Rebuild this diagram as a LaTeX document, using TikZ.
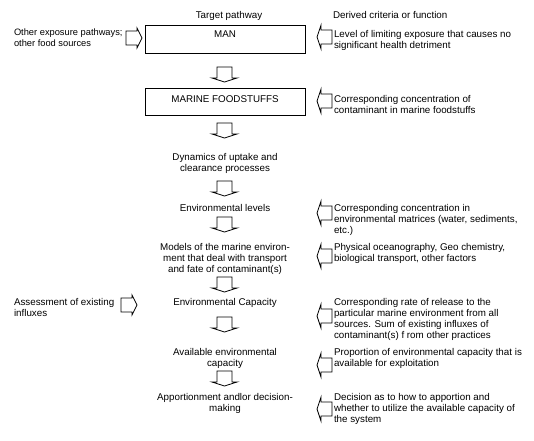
\documentclass[tikz,border=0pt]{standalone}
\usepackage{fontspec}
\setmainfont{Liberation Sans}
\begin{document}
\begin{tikzpicture}[x=1pt,y=-1pt,
  every node/.style={font=\fontsize{9.8}{11}\selectfont, inner sep=0pt, outer sep=0pt},
  arr/.style={draw=black, fill=white, line width=0.8pt, line join=miter},
  box/.style={draw=black, line width=0.9pt, minimum width=160pt, minimum height=28pt, anchor=north west},
  ctext/.style={anchor=north, align=center},
  rtext/.style={anchor=north west, align=left},
  ltext/.style={anchor=north west, align=left},
  downarr/.pic={\draw[arr] (-7.5,0) -- (7.5,0) -- (7.5,11) -- (12.5,11) -- (0,15) -- (-12.5,11) -- (-7.5,11) -- cycle;},
  leftarr/.pic={\draw[arr] (0,0) -- (4,-12) -- (4,-7) -- (15,-7) -- (15,7) -- (4,7) -- (4,12) -- cycle;},
  rightarr/.pic={\draw[arr] (0,0) -- (-5,-10) -- (-5,-7) -- (-16,-7) -- (-16,7) -- (-5,7) -- (-5,10) -- cycle;}
]
\useasboundingbox (0,0) rectangle (534,440);

% headers
\node[ctext] (hdrL) at (229,11) {Target pathway};
\node[rtext] (hdrR) at (333,11) {Derived criteria or function};

% boxes
\node[box] (man) at (145,25) {};
\node[ctext] (manT) at (225,31) {MAN};
\node[box, minimum height=27pt] (marine) at (145,88) {};
\node[ctext] (marineT) at (225,96) {MARINE FOODSTUFFS};

% centre column
\node[ctext] (dyn) at (225,153) {Dynamics of uptake and\\clearance processes};
\node[ctext] (envlev) at (225,204) {Environmental levels};
\node[ctext] (models) at (225,243) {Models of the marine environ-\\ment that deal with transport\\and fate of contaminant(s)};
\node[ctext] (envcap) at (225,298) {Environmental Capacity};
\node[ctext] (avail) at (225,348) {Available environmental\\capacity};
\node[ctext] (appor) at (225,393) {Apportionment andlor decision-\\making};

% left column
\node[ltext, font=\fontsize{9.3}{11}\selectfont] (other) at (14,29) {Other exposure pathways;\\other food sources};
\node[ltext] (assess) at (14,298) {Assessment of existing\\influxes};

% right column
\node[rtext] (r1) at (334,30) {Level of limiting exposure that causes no\\significant health detriment};
\node[rtext] (r2) at (334,95) {Corresponding concentration  of\\contaminant in marine foodstuffs};
\node[rtext] (r3) at (334,204) {Corresponding concentration  in\\environmental matrices (water, sediments,\\etc.)};
\node[rtext] (r4) at (334,243) {Physical oceanography, Geo chemistry,\\biological transport, other factors};
\node[rtext] (r5) at (334,298) {Corresponding rate of release to the\\particular marine environment from all\\sources. Sum of existing influxes of\\contaminant(s) f rom other practices};
\node[rtext] (r6) at (334,348) {Proportion of environmental capacity that is\\available for exploitation};
\node[rtext] (r7) at (334,393) {Decision as to how to apportion and\\whether to utilize the available capacity of\\the system};

% down arrows
\pic at (224.5,67) {downarr};
\pic at (224.5,123) {downarr};
\pic at (224.5,181) {downarr};
\pic at (224.5,217) {downarr};
\pic at (224.5,277) {downarr};
\pic at (224.5,317) {downarr};
\pic at (224.5,371) {downarr};

% left-pointing arrows (right side)
\pic at (317,37) {leftarr};
\pic at (317,101) {leftarr};
\pic at (317,213) {leftarr};
\pic at (317,256) {leftarr};
\pic at (317,316) {leftarr};
\pic at (317,365) {leftarr};
\pic at (317,409) {leftarr};

% right-pointing arrows (left side)
\pic at (142,38) {rightarr};
\pic at (137,305) {rightarr};
\end{tikzpicture}
\end{document}
